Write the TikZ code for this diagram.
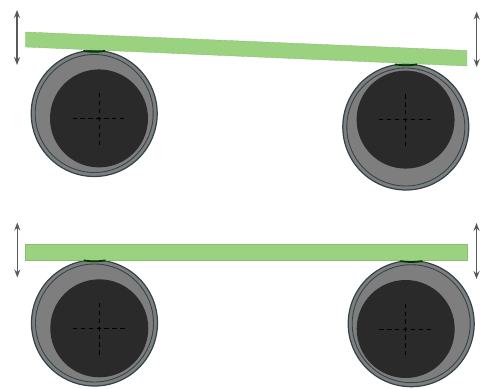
\documentclass[tikz,border=0pt]{standalone}
\usepackage{xcolor}
\usepackage{tikz}
\usetikzlibrary{arrows.meta}
\definecolor{barfill}{HTML}{9BD27F}
\definecolor{shellfill}{HTML}{7E7E7E}
\definecolor{shelledge}{HTML}{34444A}
\definecolor{corefill}{HTML}{2A2A2A}
\begin{document}
\begin{tikzpicture}[
    x=0.02cm, y=-0.02cm,
    shell/.style={circle, draw=shelledge, line width=0.7pt, fill=shellfill, inner sep=0pt, minimum size=2.52cm},
    ring/.style={circle, draw=shelledge, line width=0.5pt, inner sep=0pt, minimum size=2.36cm},
    core/.style={circle, fill=corefill, inner sep=0pt, minimum size=1.96cm},
    bar/.style={fill=barfill, draw=barfill!90!black, line width=0.2pt},
    contact/.style={draw=black!70!green!70!black, line width=1pt},
    axis/.style={black, line width=0.25pt, dash pattern=on 2.5pt off 2pt},
    travel/.style={{Stealth[length=4.5pt,width=3.4pt,fill=black]}-{Stealth[length=4.5pt,width=3.4pt,fill=black]}, draw=black!65, line width=0.8pt},
  ]
  \useasboundingbox (0,0) rectangle (488,389);

  % Upper rollers
  \node[shell] (shellA) at (94.2, 113.5) {};
  \node[ring]  (ringA)  at (94.2, 113.5) {};
  \node[core]  (coreA)  at (99, 118.4)   {};
  \node[shell] (shellB) at (405.8, 127)  {};
  \node[ring]  (ringB)  at (405.8, 127)  {};
  \node[core]  (coreB)  at (405.6, 119.6) {};

  % Lower rollers
  \node[shell] (shellC) at (94.5, 323)   {};
  \node[ring]  (ringC)  at (94.5, 323)   {};
  \node[core]  (coreC)  at (99.3, 328.3) {};
  \node[shell] (shellD) at (411.2, 323.7) {};
  \node[ring]  (ringD)  at (411.2, 323.7) {};
  \node[core]  (coreD)  at (405.7, 329)  {};

  % Dashed centre lines
  \foreach \c in {A,B,C,D} {
    \draw[axis] ([xshift=-0.53cm]core\c.center) -- ([xshift=0.53cm]core\c.center);
    \draw[axis] ([yshift=-0.53cm]core\c.center) -- ([yshift=0.53cm]core\c.center);
    \fill[black] (core\c.center) circle (0.8pt);
  }

  % Green bars
  \draw[bar] (25.5, 32) -- (467, 50.5) -- (467, 66) -- (25.5, 47) -- cycle;
  \draw[bar] (25.5, 244.5) -- (467, 244.5) -- (467, 260.3) -- (25.5, 260.3) -- cycle;

  % Contact marks
  \draw[contact] (shellA.80) arc[start angle=-80, end angle=-100, radius=1.26cm];
  \draw[contact] (shellB.80) arc[start angle=-80, end angle=-100, radius=1.26cm];
  \draw[contact] (shellC.80) arc[start angle=-80, end angle=-100, radius=1.26cm];
  \draw[contact] (shellD.80) arc[start angle=-80, end angle=-100, radius=1.26cm];

  % Arrows
  \coordinate (topLa) at (17, 10);
  \coordinate (topLb) at (17, 65);
  \coordinate (topRa) at (476.7, 11.5);
  \coordinate (topRb) at (476.7, 67);
  \coordinate (lowLa) at (17.3, 222.5);
  \coordinate (lowLb) at (17.3, 277.5);
  \coordinate (lowRa) at (476.5, 223);
  \coordinate (lowRb) at (476.5, 279);
  \draw[travel] (topLa) -- (topLb);
  \draw[travel] (topRa) -- (topRb);
  \draw[travel] (lowLa) -- (lowLb);
  \draw[travel] (lowRa) -- (lowRb);

\end{tikzpicture}
\end{document}
